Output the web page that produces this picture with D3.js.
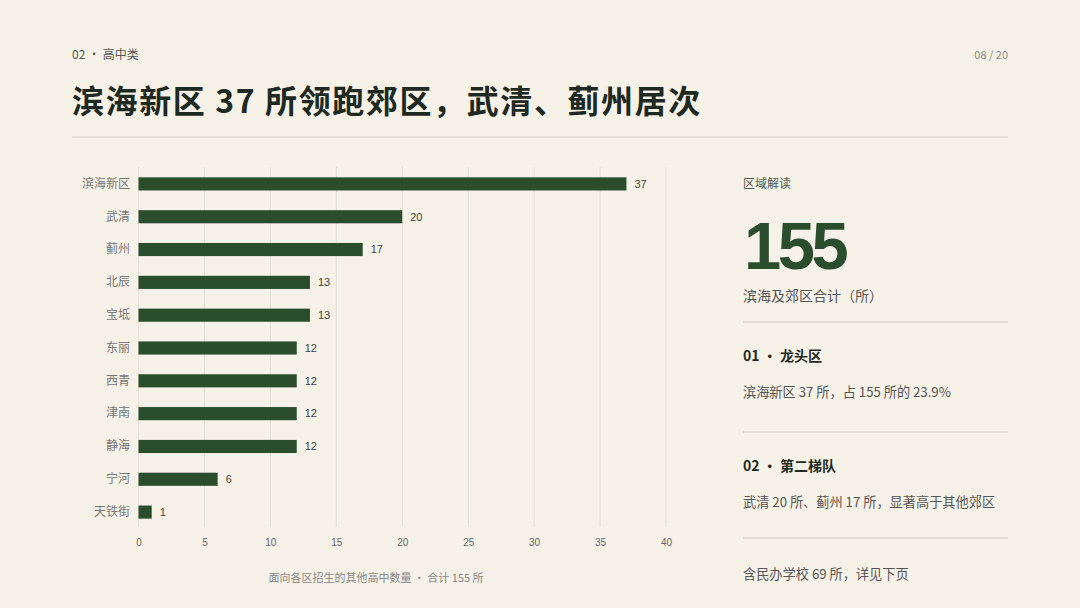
<!DOCTYPE html>
<html><head><meta charset="utf-8">
<script src="https://cdn.jsdelivr.net/npm/d3@7"></script>
<style>
html,body{margin:0;padding:0;background:#f6f2e8;}
svg{display:block;}
</style></head>
<body>
<svg id="c" width="1080" height="608"></svg>
<script>
const categories = ["滨海新区","武清","蓟州","北辰","宝坻","东丽","西青","津南","静海","宁河","天铁街"];
const values = [37,20,17,13,13,12,12,12,12,6,1];
const xTicks = [0,5,10,15,20,25,30,35,40];
const headerLabel = "02 · 高中类";
const pageLabel = "08 / 20";
const titleText = "滨海新区 37 所领跑郊区，武清、蓟州居次";
const captionText = "面向各区招生的其他高中数量 · 合计 155 所";
const panelHeading = "区域解读";
const totalValue = "155";
const totalLabel = "滨海及郊区合计（所）";
const notes = [
  {head:"01 · 龙头区", body:"滨海新区 37 所，占 155 所的 23.9%"},
  {head:"02 · 第二梯队", body:"武清 20 所、蓟州 17 所，显著高于其他郊区"}
];
const footNote = "含民办学校 69 所，详见下页";

const F = "'Noto Sans CJK SC','Noto Sans',sans-serif";
const svg = d3.select("#c");
const green = "#2a4d2e";

svg.append("rect").attr("width",1080).attr("height",608).attr("fill","#f6f2e8");

// header
svg.append("text").attr("x",72).attr("y",59).attr("font-family",F).attr("font-size",12)
  .attr("fill","#555").text(headerLabel);
svg.append("text").attr("x",1008).attr("y",59).attr("text-anchor","end").attr("font-family",F)
  .attr("font-size",11).attr("fill","#8a8a86").text(pageLabel);
svg.append("text").attr("x",72).attr("y",113).attr("font-family",F).attr("font-size",32)
  .attr("font-weight",700).attr("letter-spacing",1.6).attr("fill","#1e2a21").text(titleText);
svg.append("line").attr("x1",72).attr("x2",1008).attr("y1",137).attr("y2",137)
  .attr("stroke","#dedad0").attr("stroke-width",1.5);

// chart
const x = d3.scaleLinear().domain([0,40]).range([138.5,666]);
const y = d3.scaleBand().domain(categories).range([167.5,528.5]).paddingInner(0.6).paddingOuter(0.3);

const g = svg.append("g");
g.selectAll("line.grid").data(xTicks).join("line").attr("class","grid")
  .attr("x1",d=>x(d)).attr("x2",d=>x(d)).attr("y1",167).attr("y2",527)
  .attr("stroke","#e6e1d5").attr("stroke-width",1);

const xAxis = d3.axisBottom(x).tickValues(xTicks).tickSize(0).tickPadding(0);
const ax = g.append("g").attr("transform","translate(0,546)").call(xAxis);
ax.select(".domain").remove();
ax.selectAll("text").attr("font-family","'Liberation Sans',Arial,sans-serif").attr("font-size",10)
  .attr("fill","#666").attr("dy","0");

const yAxis = d3.axisLeft(y).tickSize(0).tickPadding(0);
const ay = g.append("g").attr("transform","translate(130,0)").call(yAxis);
ay.select(".domain").remove();
ay.selectAll("text").attr("font-family",F).attr("font-size",12).attr("fill","#777");

const data = categories.map((c,i)=>({c, v:values[i]}));
g.selectAll("rect.bar").data(data).join("rect").attr("class","bar")
  .attr("x",x(0)).attr("y",d=>y(d.c)).attr("width",d=>x(d.v)-x(0)).attr("height",y.bandwidth())
  .attr("fill",green);
g.selectAll("text.val").data(data).join("text").attr("class","val")
  .attr("x",d=>x(d.v)+8).attr("y",d=>y(d.c)+y.bandwidth()/2).attr("dy","0.35em")
  .attr("font-family","'Liberation Sans',Arial,sans-serif").attr("font-size",11).attr("fill","#444")
  .text(d=>d.v);

svg.append("text").attr("x",376).attr("y",582).attr("text-anchor","middle").attr("font-family",F)
  .attr("font-size",11).attr("fill","#888").text(captionText);

// right panel
const px = 743;
svg.append("text").attr("x",px).attr("y",188).attr("font-family",F).attr("font-size",12)
  .attr("fill","#4d5a4e").text(panelHeading);
svg.append("text").attr("x",px+1).attr("y",269).attr("font-family","'Liberation Sans',Arial,sans-serif")
  .attr("font-size",67).attr("font-weight",700).attr("letter-spacing",-3.5).attr("fill",green).text(totalValue);
svg.append("text").attr("x",px).attr("y",301).attr("font-family",F).attr("font-size",14)
  .attr("fill","#555").text(totalLabel);
const divY = [322,432,538];
svg.selectAll("line.div").data(divY).join("line").attr("class","div")
  .attr("x1",px).attr("x2",1008).attr("y1",d=>d).attr("y2",d=>d)
  .attr("stroke","#dedad0").attr("stroke-width",1.5);
notes.forEach((n,i)=>{
  const base = i===0 ? 322 : 432;
  svg.append("text").attr("x",px).attr("y",base+39).attr("font-family",F).attr("font-size",14)
    .attr("font-weight",700).attr("fill","#1e2a21").text(n.head);
  svg.append("text").attr("x",px).attr("y",base+75).attr("font-family",F).attr("font-size",13.2)
    .attr("fill","#555").text(n.body);
});
svg.append("text").attr("x",px).attr("y",579).attr("font-family",F).attr("font-size",13.2)
  .attr("fill","#555").text(footNote);
</script>
</body></html>
